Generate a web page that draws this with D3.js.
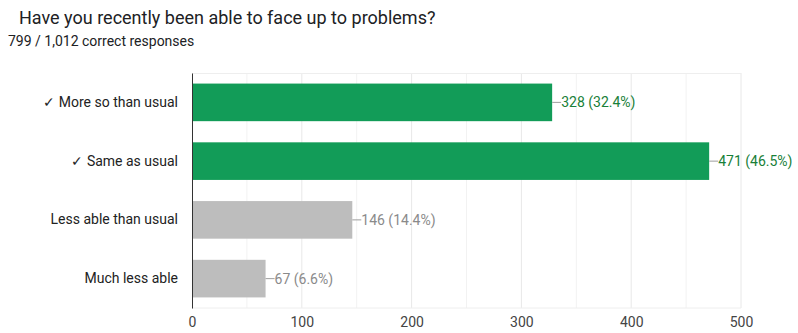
<!DOCTYPE html>
<html>
<head>
<meta charset="utf-8">
<script src="https://cdn.jsdelivr.net/npm/d3@7"></script>
<style>
  body { margin: 0; background: #fff; }
  text { font-family: Roboto, Arial, sans-serif; }
</style>
</head>
<body>
<script>
/* Answer counts from the quiz summary */
var categories = ["\u2713 More so than usual", "\u2713 Same as usual", "Less able than usual", "Much less able"];
var counts = [328, 471, 146, 67];
var percents = ["32.4%", "46.5%", "14.4%", "6.6%"];
var correct = [true, true, false, false];
var xTicks = [0, 100, 200, 300, 400, 500];

var width = 798, height = 333;
var margin = {top: 73, right: 57, bottom: 25, left: 192};
var innerW = width - margin.left - margin.right,
    innerH = height - margin.top - margin.bottom;

var svg = d3.select("body").append("svg")
    .attr("width", width)
    .attr("height", height);

// title + subtitle
svg.append("text")
    .attr("x", 19).attr("y", 24)
    .attr("font-size", "18px")
    .attr("fill", "#202124")
    .text("Have you recently been able to face up to problems?");
svg.append("text")
    .attr("x", 8).attr("y", 46)
    .attr("font-size", "14px")
    .attr("fill", "#202124")
    .text("799 / 1,012 correct responses");

var g = svg.append("g")
    .attr("transform", "translate(" + margin.left + "," + margin.top + ")");

var x = d3.scaleLinear().domain([0, 500]).range([0, innerW]);
var y = d3.scaleBand().domain(categories).range([0, innerH]).paddingInner(0.36).paddingOuter(0.18);

// grid lines (every 50)
g.append("g")
    .selectAll("line")
    .data(d3.range(50, 501, 50))
    .enter().append("line")
    .attr("x1", function(d) { return x(d); })
    .attr("x2", function(d) { return x(d); })
    .attr("y1", 0).attr("y2", innerH)
    .attr("stroke", function(d) { return d % 100 === 0 ? "#e8e8e8" : "#f2f2f2"; })
    .attr("stroke-width", 1);
g.append("line")
    .attr("x1", 0).attr("x2", innerW)
    .attr("y1", 0.5).attr("y2", 0.5)
    .attr("stroke", "#eeeeee");
g.append("line")
    .attr("x1", 0).attr("x2", innerW)
    .attr("y1", innerH).attr("y2", innerH)
    .attr("stroke", "#eeeeee");

// bars
g.selectAll(".bar")
    .data(categories)
    .enter().append("rect")
    .attr("class", "bar")
    .attr("x", 0)
    .attr("y", function(d) { return y(d); })
    .attr("width", function(d, i) { return x(counts[i]); })
    .attr("height", y.bandwidth())
    .attr("fill", function(d, i) { return correct[i] ? "#129c58" : "#bdbdbd"; });

// leader lines + value labels
g.selectAll(".lead")
    .data(categories)
    .enter().append("line")
    .attr("x1", function(d, i) { return x(counts[i]); })
    .attr("x2", function(d, i) { return x(counts[i]) + 9; })
    .attr("y1", function(d) { return y(d) + y.bandwidth() / 2; })
    .attr("y2", function(d) { return y(d) + y.bandwidth() / 2; })
    .attr("stroke", "#9e9e9e");

g.selectAll(".val")
    .data(categories)
    .enter().append("text")
    .attr("x", function(d, i) { return x(counts[i]) + 9; })
    .attr("y", function(d) { return y(d) + y.bandwidth() / 2; })
    .attr("dy", "0.35em")
    .attr("font-size", "14px")
    .attr("fill", function(d, i) { return correct[i] ? "#188038" : "#8a8a8a"; })
    .text(function(d, i) { return counts[i] + " (" + percents[i] + ")"; });

// y axis
var yAxis = g.append("g").call(d3.axisLeft(y).tickSize(0).tickPadding(14));
yAxis.select(".domain").attr("stroke", "#333");
yAxis.selectAll("text").attr("font-size", "14px").attr("fill", "#222")
    .style("font-family", "Roboto, Arial, sans-serif");

// x axis
var xAxis = g.append("g")
    .attr("transform", "translate(0," + innerH + ")")
    .call(d3.axisBottom(x).tickValues(xTicks).tickSize(0).tickPadding(9));
xAxis.select(".domain").remove();
xAxis.selectAll("text").attr("font-size", "14px").attr("fill", "#444")
    .style("font-family", "Roboto, Arial, sans-serif");
</script>
</body>
</html>
